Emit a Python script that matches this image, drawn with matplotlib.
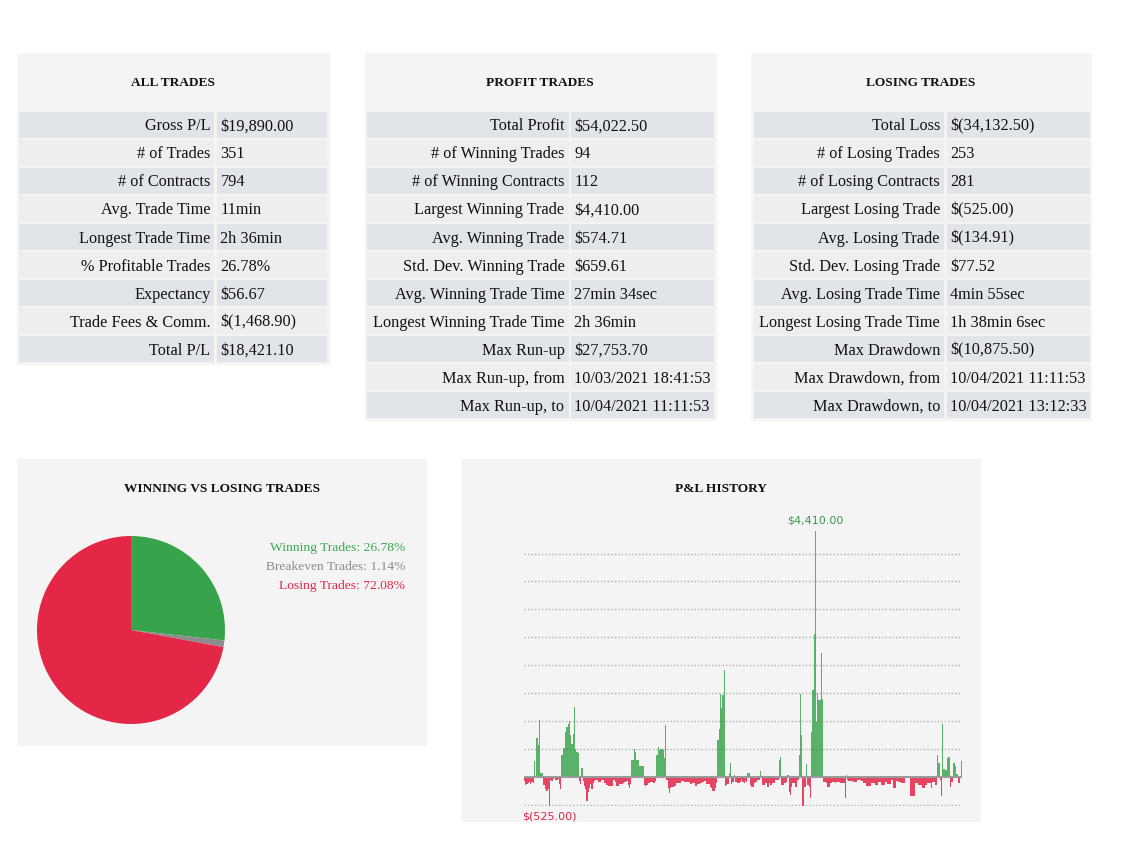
import matplotlib
matplotlib.use("Agg")
import matplotlib.pyplot as plt
import numpy as np

W, H = 1135, 841
SERIF = "Liberation Serif"

# ---- table data ----
all_labels = ["Gross P/L", "# of Trades", "# of Contracts", "Avg. Trade Time",
              "Longest Trade Time", "% Profitable Trades", "Expectancy",
              "Trade Fees & Comm.", "Total P/L"]
all_values = ["$19,890.00", "351", "794", "11min", "2h 36min", "26.78%",
              "$56.67", "$(1,468.90)", "$18,421.10"]

profit_labels = ["Total Profit", "# of Winning Trades", "# of Winning Contracts",
                 "Largest Winning Trade", "Avg. Winning Trade", "Std. Dev. Winning Trade",
                 "Avg. Winning Trade Time", "Longest Winning Trade Time", "Max Run-up",
                 "Max Run-up, from", "Max Run-up, to"]
profit_values = ["$54,022.50", "94", "112", "$4,410.00", "$574.71", "$659.61",
                 "27min 34sec", "2h 36min", "$27,753.70", "10/03/2021 18:41:53",
                 "10/04/2021 11:11:53"]

losing_labels = ["Total Loss", "# of Losing Trades", "# of Losing Contracts",
                 "Largest Losing Trade", "Avg. Losing Trade", "Std. Dev. Losing Trade",
                 "Avg. Losing Trade Time", "Longest Losing Trade Time", "Max Drawdown",
                 "Max Drawdown, from", "Max Drawdown, to"]
losing_values = ["$(34,132.50)", "253", "281", "$(525.00)", "$(134.91)", "$77.52",
                 "4min 55sec", "1h 38min 6sec", "$(10,875.50)", "10/04/2021 11:11:53",
                 "10/04/2021 13:12:33"]

# ---- pie data ----
pie_labels = ["Winning Trades", "Breakeven Trades", "Losing Trades"]
pie_pcts = [26.78, 1.14, 72.08]
pie_colors = ["#37a34a", "#8c8c8c", "#e42647"]
pie_text_colors = ["#3aa84f", "#8a8a8a", "#e4254a"]

# ---- P&L per trade ----
pnl = [
    -80, -140, -135, -120, -100, -130, -90, -110,
    290, 0,
    700, 570, 1015, 70, 65,
    -150, -150, -220, -260, -220, -525,
    -60, -70, -40, -30, -50, -60, -40, -135, -220,
    390, 510, 510, 800, 900, 950, 1000, 750, 580, 760, 1250, 490, 450, 420,
    -80, -130,
    150,
    -75, -165, -225, -430, -280, -195, -135, -225, -105, -75,
    -60, -60, -95, -95, -95, -60, -60, -105, -105, -150,
    -165, -165, -165, -165, -60, -60, -95, -165, -165, -135,
    -135, -135, -120, -100, -90, -80, -150, -200, -135,
    300, 300, 505, 445, 300, 300, 200, 200, 200, 200,
    -150, -165, -150, -120, -120, -90, -90, -105, -105, -70,
    390, 525, 480, 490, 490, 475, 340, 920,
    -60, -210, -285, -210, -190, -190, -165, -165, -120, -120,
    -105, -105, -70, -70, -90, -90, -90, -90, -90, -130,
    -130, -120, -120, -165, -165, -130, -130, -110, -110, -90,
    -70, -70, -130, -130, -130, -180, -210, -250, -250, -210,
    -120,
    665, 860, 1490, 1225, 1460, 1910,
    -165, -140, -130, 60, 240, -130, -90, 25, -90, -90, -110, -110, -90, -50, -90,
    -120, -80, -100,
    60, 60,
    -150, -180, -180, -120, -90, -90, -50, -50,
    107,
    -30, -150, -150, -120, -120, -180, -120, -150, -150, -120, -120, -60, -60, -60,
    300, 360,
    -150, -150, -120, -120, -90,
    30,
    -270, -330, -180, -120, -120, -180, -180, -60,
    385, 1490, 745,
    -525, -180, -180,
    220,
    -150, -180, -390,
    800, 1550, 2560, 4410, 980, 1505, 1370, 1370, 2215, 1385,
    -90, -90, -120, -180, -180, -120, -120, -90, -90, -120,
    -90, -90, -90, -110, -110, -110, -110,
    -390,
    30,
    -60, -70, -70, -70, -70,
    -90, -90, -90, -60, -60, -60, -70, -70, -120, -120,
    -165, -165, -165, -165, -120, -120, -120, -150, -150, -150,
    -90, -90, -150, -150, -150, -90, -90, -130, -130, -130,
    -60, -60, -210, -210, -70, -70, -100, -100, -120, -120, -120,
    0, 0, 0, 15,
    -345, -345, -345, -345, -120, -120, -120, -150, -150, -150,
    -200, -200, -150, -150, -120, -120, -120, -210, -90, -90, -150, -150,
    390, 240, -60, -340, 940, 137, 120, 120, 327, 357,
    -180, -90, -90, 250, 190, 48, 48, -110, 20, 280,
]


def px_axes(x0, y0, x1, y1, **kw):
    return fig.add_axes([x0 / W, 1 - y1 / H, (x1 - x0) / W, (y1 - y0) / H], **kw)


def panel(x0, y0, x1, y1):
    ax = px_axes(x0, y0, x1, y1)
    ax.set_facecolor("#f4f4f4")
    ax.set_xticks([])
    ax.set_yticks([])
    for s in ax.spines.values():
        s.set_visible(False)
    return ax


def title(x, y, s):
    fig.text(x / W, 1 - (y + 1.5) / H, s, ha="center", va="center", fontsize=9.6,
             fontweight="bold", family=SERIF, color="#111111")


def draw_table(x0, xsplit, x1, ytop, labels, values):
    pitch = 28.05
    n = len(labels)
    ax = px_axes(x0, ytop, x1, ytop + n * pitch)
    ax.set_xlim(x0, x1)
    ax.set_ylim(n, 0)
    ax.axis("off")
    rows = np.arange(n) + 0.5
    cols = ["#e1e4e9" if i % 2 == 0 else "#eeeeee" for i in range(n)]
    ax.barh(rows, xsplit - x0, left=x0, height=0.94, color=cols)
    ax.barh(rows, x1 - xsplit - 2.5, left=xsplit + 2.5, height=0.94, color=cols)
    # baseline placement so commas/descenders don't shift rows
    for r, lab, val in zip(rows + 0.2, labels, values):
        ax.text(xsplit - 4, r, lab, ha="right", va="baseline", fontsize=11.7,
                family=SERIF, color="#111111")
        ax.text(xsplit + 6, r, val, ha="left", va="baseline", fontsize=11.7,
                family=SERIF, color="#111111")


fig = plt.figure(figsize=(W / 100, H / 100), dpi=100)
fig.patch.set_facecolor("white")

# ---- top tables ----
panel(17, 53, 330, 365)
title(173, 81, "ALL TRADES")
draw_table(19, 214.5, 327, 110.7, all_labels, all_values)

panel(365, 53, 717, 421)
title(540, 81, "PROFIT TRADES")
draw_table(367, 568.5, 714, 110.7, profit_labels, profit_values)

panel(751, 53, 1092, 421)
title(921, 81, "LOSING TRADES")
draw_table(753.5, 944, 1090, 110.7, losing_labels, losing_values)

# ---- pie ----
panel(17, 459, 427, 746)
title(222, 488, "WINNING VS LOSING TRADES")
pax = px_axes(37, 536, 225, 724)
pax.pie(pie_pcts, colors=pie_colors, startangle=90, counterclock=False,
        radius=1.0, wedgeprops=dict(linewidth=0))
pax.set_xlim(-1, 1)
pax.set_ylim(-1, 1)
for i, (lab, pct, c) in enumerate(zip(pie_labels, pie_pcts, pie_text_colors)):
    fig.text(405 / W, 1 - (548 + 19 * i) / H, f"{lab}: {pct:.2f}%", ha="right",
             va="center", fontsize=9.7, family=SERIF, color=c)

# ---- P&L history ----
panel(462, 459, 981, 822)
title(721, 488, "P&L HISTORY")
bax = px_axes(524, 530.7, 962, 806)
bax.set_facecolor("none")
x = np.arange(len(pnl))
vals = np.array(pnl)
bar_cols = [(0.22, 0.64, 0.29, 0.82) if v >= 0 else (0.89, 0.15, 0.29, 0.85) for v in vals]
bax.bar(x, vals, width=1.0, color=bar_cols, linewidth=0)
bax.set_xlim(-0.5, len(pnl) - 0.5)
bax.set_ylim(min(pnl), max(pnl))
for g in np.arange(-500, 4001, 500):
    if g == 0:
        continue
    bax.axhline(g, color="#b0b0b0", linestyle=(0, (1, 1.5)), linewidth=1, zorder=0)
bax.axhline(0, color="#9a9a9a", linewidth=1.5, zorder=3)
bax.set_xticks([])
bax.set_yticks([])
for s in bax.spines.values():
    s.set_visible(False)
imax = int(np.argmax(vals))
bax.annotate(f"${max(pnl):,.2f}", (imax, max(pnl)), xytext=(0, 4),
             textcoords="offset points", ha="center", va="bottom",
             fontsize=8, color="#3a9a4a", annotation_clip=False)
bax.annotate(f"$({-min(pnl):,.2f})", (-0.5, min(pnl)), xytext=(-1, -4),
             textcoords="offset points", ha="left", va="top",
             fontsize=8, color="#e4254a", annotation_clip=False)

fig.savefig("out.png", dpi=100, facecolor="white")
